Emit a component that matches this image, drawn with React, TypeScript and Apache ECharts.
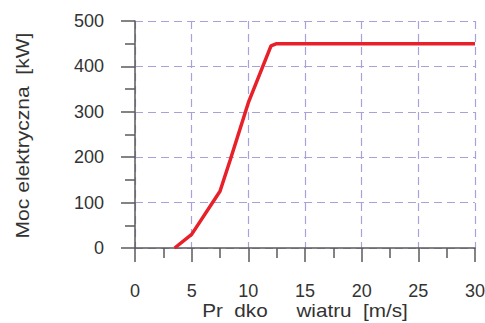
import React, { useEffect, useRef } from "react";
import * as echarts from "echarts";

const windSpeed = [3.5, 5, 7.5, 8.4, 10, 12, 12.5, 30];
const power = [0, 30, 125, 194, 320, 445, 450, 450];
const xTitle = "Pr  dko     wiatru  [m/s]";
const yTitle = "Moc elektryczna  [kW]";

const FONT = "'Liberation Sans', Arial, sans-serif";
const GRID_COLOR = "#a8a2da";
const AXIS_COLOR = "#5a5a5a";
const TEXT_COLOR = "#333333";

export default function App() {
  const ref = useRef<HTMLDivElement>(null);
  useEffect(() => {
    const chart = echarts.init(ref.current!, null, { renderer: "svg" });
    chart.setOption({
      animation: false,
      backgroundColor: "#ffffff",
      textStyle: { fontFamily: FONT },
      grid: { left: 135, right: 10, top: 21, bottom: 75, containLabel: false, outerBoundsMode: "none" },
      graphic: [
        {
          type: "text",
          x: 305,
          y: 311,
          scaleX: 1.15,
          style: {
            text: xTitle,
            fontSize: 18,
            fontFamily: FONT,
            fill: TEXT_COLOR,
            align: "center",
            verticalAlign: "middle",
          },
        },
        {
          type: "text",
          x: 23,
          y: 135.5,
          rotation: Math.PI / 2,
          scaleX: 1.17,
          style: {
            text: yTitle,
            fontSize: 18,
            fontFamily: FONT,
            fill: TEXT_COLOR,
            align: "center",
            verticalAlign: "middle",
          },
        },
      ],
      xAxis: {
        type: "value",
        min: 0,
        max: 30,
        interval: 5,
        axisLine: { show: true, lineStyle: { color: AXIS_COLOR, width: 1.5 } },
        axisTick: { show: true, length: 14, lineStyle: { color: AXIS_COLOR, width: 1.5 } },
        minorTick: { show: true, splitNumber: 2, length: 10, lineStyle: { color: AXIS_COLOR, width: 1.5 } },
        axisLabel: { margin: 34, fontSize: 18, lineHeight: 18, color: TEXT_COLOR, fontFamily: FONT },
        splitLine: { show: true, lineStyle: { color: GRID_COLOR, type: [8, 5], width: 1.2 } },
      },
      yAxis: {
        type: "value",
        min: 0,
        max: 500,
        interval: 100,
        axisLine: { show: true, lineStyle: { color: AXIS_COLOR, width: 1.5 } },
        axisTick: { show: true, length: 14, lineStyle: { color: AXIS_COLOR, width: 1.5 } },
        minorTick: { show: true, splitNumber: 2, length: 10, lineStyle: { color: AXIS_COLOR, width: 1.5 } },
        axisLabel: { margin: 31, fontSize: 18, color: TEXT_COLOR, fontFamily: FONT },
        splitLine: { show: true, lineStyle: { color: GRID_COLOR, type: [8, 5], width: 1.2 } },
      },
      series: [
        {
          type: "line",
          data: windSpeed.map((x, i) => [x, power[i]]),
          showSymbol: false,
          symbol: "none",
          lineStyle: { color: "#e8202a", width: 3.5 },
          z: 5,
        },
      ],
    });
    return () => chart.dispose();
  }, []);
  return (
    <div
      ref={ref}
      style={{ position: "fixed", left: 0, top: 0, width: 485, height: 323 }}
    />
  );
}
